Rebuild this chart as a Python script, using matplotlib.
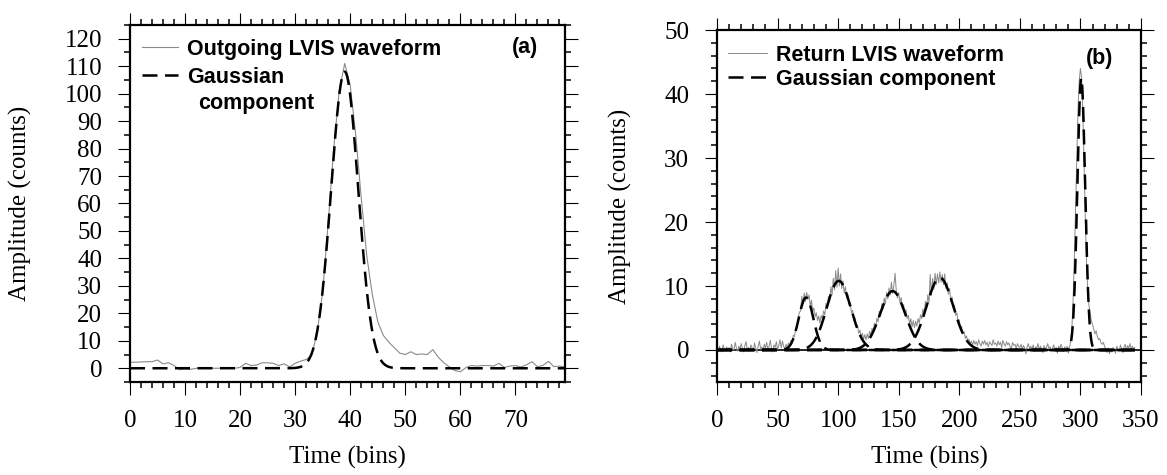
import numpy as np
import matplotlib
matplotlib.use("Agg")
from matplotlib import pyplot as plt
from matplotlib.ticker import MultipleLocator

plt.rcParams['font.family'] = ['Liberation Serif', 'DejaVu Serif']

# ---- panel (a): outgoing waveform, one value per bin (0..79)
out_counts = [2.2, 2.2, 2.3, 2.4, 2.4, 3.0, 1.6, 2.0, 1.0, -0.5,
              -0.3, -0.4, 0.0, 0.0, 0.0, 0.0, 0.0, 0.2, 0.0, 0.0,
              0.3, 1.8, 1.0, 1.2, 2.0, 2.0, 1.8, 1.0, 1.6, 0.5,
              1.8, 2.6, 3.2, 4.8, 13.0, 28.0, 53.0, 80.0, 101.0, 111.0,
              103.0, 85.0, 62.0, 41.0, 27.0, 17.0, 12.0, 9.5, 7.5, 5.5,
              5.0, 6.0, 5.0, 5.2, 5.0, 6.8, 4.0, 2.0, 0.5, -0.8,
              -1.3, 0.2, 1.0, 0.8, 1.0, 1.0, 0.8, 1.8, 0.3, 0.8,
              1.0, 0.5, 1.2, 2.4, 0.6, 1.0, 2.5, 0.6, 0.8, 0.5]
# gaussian fit of the outgoing pulse: amplitude, centre, sigma
out_amp = [108.0]
out_mu = [39.0]
out_sigma = [2.45]

# ---- panel (b): return waveform, one value per bin (0..345)
ret_counts = [0.3, -0.2, 0.6, 0.1, -0.3, 0.8, 0.2, -0.1, 0.5, 0.0,
              0.4, -0.3, 0.9, 0.2, 0.0, 1.2, 0.3, -0.2, 0.6, 0.1,
              1.0, 0.2, -0.3, 0.7, 1.3, 0.0, 0.4, -0.2, 0.8, 0.3,
              0.0, 1.1, 0.2, -0.4, 0.6, 1.4, 0.1, 0.5, -0.2, 0.9,
              0.3, 1.2, 0.0, 0.6, 1.5, 0.2, -0.3, 0.8, 0.4, 1.3,
              0.1, 0.7, 1.6, 0.3, 1.4, 0.6, 0.1, 0.9, 0.3, 1.1,
              0.7, 1.5, 1.2, 2.3, 2.1, 3.4, 3.5, 5.0, 5.9, 6.1,
              8.4, 7.2, 8.9, 7.6, 9.0, 7.9, 8.6, 6.8, 7.8, 6.0,
              6.6, 5.2, 5.8, 4.6, 5.3, 4.2, 5.4, 4.8, 6.1, 5.5,
              7.3, 6.5, 8.4, 7.6, 9.9, 8.6, 11.2, 9.4, 12.4, 9.8,
              12.8, 10.0, 11.9, 9.6, 10.8, 8.9, 9.9, 8.1, 8.7, 7.0,
              7.4, 5.8, 6.2, 4.6, 5.0, 3.6, 3.9, 2.6, 3.1, 2.0,
              2.6, 1.7, 2.4, 1.6, 2.5, 1.8, 2.9, 2.3, 3.4, 2.8,
              4.2, 3.5, 5.0, 4.4, 6.1, 5.3, 7.2, 6.4, 8.1, 7.2,
              9.0, 8.0, 9.7, 8.6, 10.6, 8.8, 10.1, 12.0, 9.2, 8.1,
              9.0, 7.4, 8.2, 6.6, 7.1, 5.8, 6.3, 4.9, 5.4, 4.0,
              4.9, 3.6, 4.6, 3.5, 4.5, 3.7, 4.9, 4.2, 5.5, 4.9,
              6.4, 5.7, 7.6, 6.5, 8.6, 7.4, 11.8, 8.6, 11.2, 9.5,
              12.0, 10.2, 11.9, 10.5, 12.2, 10.6, 11.8, 10.2, 11.9, 9.6,
              10.5, 8.7, 9.6, 7.6, 8.3, 6.6, 7.0, 5.4, 5.8, 4.4,
              4.7, 3.4, 3.7, 2.5, 2.9, 1.8, 2.2, 1.3, 1.7, 1.0,
              1.4, 0.8, 1.5, 0.9, 1.3, 0.7, 1.6, 1.0, 0.6, 1.4,
              0.9, 1.5, 0.8, 1.2, 0.5, 1.3, 1.0, 0.7, 1.6, 0.9,
              1.1, 0.6, 1.4, 0.8, 1.2, 0.4, 1.5, 0.9, 0.6, 1.3,
              0.8, 1.1, 0.5, 0.3, 1.2, 0.7, 0.9, 0.2, 1.0, 0.6,
              0.4, 0.9, 0.1, 0.7, 0.3, -0.6, 0.5, 1.0, 0.2, 0.6,
              0.1, 0.8, -0.2, 0.5, 0.3, 1.0, 0.0, 0.6, 0.2, -0.4,
              0.7, 0.1, 0.4, 1.0, 0.2, 0.5, -0.3, 0.3, 0.8, 0.0,
              0.4, -0.5, 0.6, 0.2, 0.9, 0.3, -0.2, 0.5, 0.1, 0.6,
              -0.5, 0.3, 1.4, 3.6, 8.0, 14.5, 22.0, 30.0, 37.5, 42.0,
              44.0, 42.5, 37.0, 29.5, 21.0, 14.0, 9.5, 7.0, 5.8, 4.6,
              4.0, 3.3, 2.5, 3.0, 2.1, 1.6, 1.8, 1.1, 0.9, 1.2,
              0.5, 0.2, -0.4, 0.3, -0.6, 0.1, -0.3, 0.4, 0.0, -0.5,
              0.6, 0.1, -0.3, 0.8, 0.2, -0.4, 0.5, 0.9, 0.0, 0.7,
              0.3, 1.0, 0.2, 0.6, 0.1, 0.4]
# the five gaussian components of the return: amplitude, centre, sigma
ret_amp = [8.2, 10.8, 9.2, 11.3, 42.5]
ret_mu = [73.5, 100.5, 145.0, 184.0, 300.7]
ret_sigma = [6.0, 10.0, 10.5, 11.0, 3.2]

WAVE_COLOR = '#8a8a8a'
LEG_FONT = {'family': 'Liberation Sans', 'weight': 'bold', 'size': 15.5}


def Gaussian(x, amp, mu, sigma):
    return amp * np.exp(-(x - mu) ** 2 / (2.0 * sigma ** 2))


def Style_Axes(ax, xmaj, xmin, ymaj, ymin):
    ax.xaxis.set_major_locator(MultipleLocator(xmaj))
    ax.xaxis.set_minor_locator(MultipleLocator(xmin))
    ax.yaxis.set_major_locator(MultipleLocator(ymaj))
    ax.yaxis.set_minor_locator(MultipleLocator(ymin))
    ax.tick_params(which='both', direction='out', top=True, right=True,
                   labelsize=18, pad=11)
    ax.tick_params(which='major', length=9, width=0.8)
    ax.tick_params(which='minor', length=4.5, width=1.1)
    for s in ax.spines.values():
        s.set_linewidth(1.6)
    ax.set_xlabel("Time (bins)", fontsize=18, labelpad=10)
    ax.set_ylabel("Amplitude (counts)", fontsize=18)


fig = plt.figure(figsize=(11.67, 4.75), dpi=100)

# ---------------- (a)
ax1 = fig.add_axes([0.1114, 0.1958, 0.3727, 0.7516])
bins_a = np.arange(len(out_counts))
fine_a = np.linspace(0, len(out_counts) - 1, 800)
ax1.plot(bins_a, out_counts, color=WAVE_COLOR, lw=0.8,
         label="Outgoing LVIS waveform")
ax1.plot(fine_a, Gaussian(fine_a, out_amp[0], out_mu[0], out_sigma[0]),
         color='k', lw=1.8, dashes=(6, 3), label="Gaussian")
ax1.set_xlim(0, 79)
ax1.set_ylim(-5, 125)
Style_Axes(ax1, 10, 2, 10, 5)
ax1.yaxis.set_label_coords(-0.225, 0.5)
ax1.legend(loc='upper left', bbox_to_anchor=(0.028, 0.961), frameon=False,
           prop=LEG_FONT, handlelength=1.65, handletextpad=0.45,
           labelspacing=0.33, borderpad=0, borderaxespad=0)
ax1.text(0.156, 0.78, "component", transform=ax1.transAxes, va='center',
         ha='left', fontdict=LEG_FONT)
ax1.text(0.908, 0.936, "(a)", transform=ax1.transAxes, va='center',
         ha='center', fontdict=LEG_FONT)

# ---------------- (b)
ax2 = fig.add_axes([0.6144, 0.1958, 0.3633, 0.741])
bins_b = np.arange(len(ret_counts))
fine_b = np.linspace(0, len(ret_counts) - 1, 3000)
ax2.axhline(0, color='k', lw=1.2)
ax2.plot(bins_b, ret_counts, color=WAVE_COLOR, lw=0.7,
         label="Return LVIS waveform")
for i in range(len(ret_amp)):
    ax2.plot(fine_b, Gaussian(fine_b, ret_amp[i], ret_mu[i], ret_sigma[i]),
             color='k', lw=1.8, dashes=(6, 3),
             label="Gaussian component" if i == 0 else None)
ax2.set_xlim(0, 350)
ax2.set_ylim(-5, 50)
Style_Axes(ax2, 50, 10, 10, 2)
ax2.yaxis.set_label_coords(-0.2, 0.5)
ax2.legend(loc='upper left', bbox_to_anchor=(0.026, 0.958), frameon=False,
           prop=LEG_FONT, handlelength=1.8, handletextpad=0.45,
           labelspacing=0.15, borderpad=0, borderaxespad=0)
ax2.text(0.903, 0.92, "(b)", transform=ax2.transAxes, va='center',
         ha='center', fontdict=LEG_FONT)

plt.savefig("out.png", dpi=100)
